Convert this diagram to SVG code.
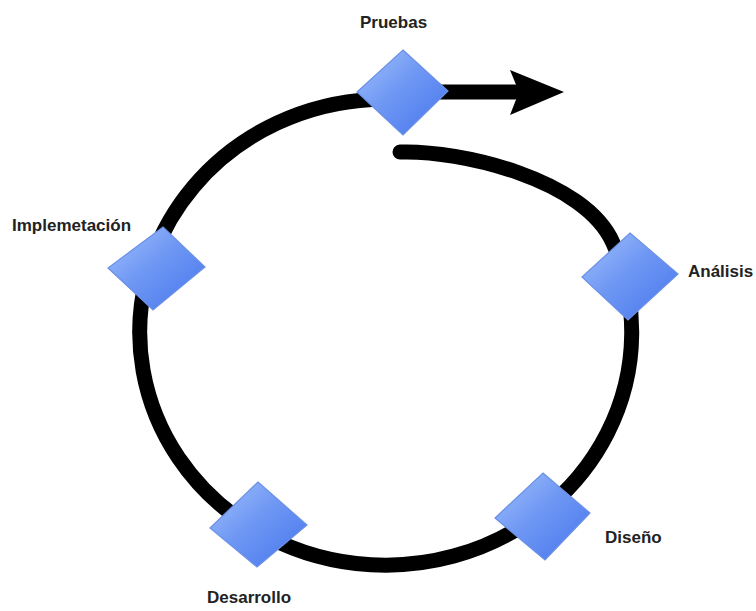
<svg xmlns="http://www.w3.org/2000/svg" width="756" height="611" viewBox="0 0 756 611">
  <defs>
    <linearGradient id="blue" x1="0" y1="0" x2="1" y2="1">
      <stop offset="0" stop-color="#a3c1fb"/>
      <stop offset="0.45" stop-color="#6f98f4"/>
      <stop offset="1" stop-color="#4674ec"/>
    </linearGradient>
  </defs>
  <style>
    .ring { fill: none; stroke: #000; stroke-width: 15; stroke-linecap: round; stroke-linejoin: round; }
    .node { fill: url(#blue); stroke: #6b90e6; stroke-width: 1.2; }
    .lbl { font-family: "Liberation Sans", Arial, sans-serif; font-weight: bold; font-size: 17px; fill: #222; }
  </style>
  <rect width="756" height="611" fill="#fff"/>
  <g id="connectors">
    <path class="ring" d="M400,152 C460,150 585,179 613,243 A246,233 0 1 1 372,99.5 L403,92 L515,92"/>
    <polygon points="510,70 564,92 510,115 519,92" fill="#000"/>
  </g>
  <g id="pruebas">
    <polygon class="node" points="403,50 448,91 403,135 357,92"/>
    <text class="lbl" x="360" y="28">Pruebas</text>
  </g>
  <g id="analisis">
    <polygon class="node" points="630,233 678,274 628,320 582,277"/>
    <text class="lbl" x="688" y="277">Análisis</text>
  </g>
  <g id="diseno">
    <polygon class="node" points="543,473 590,513 545,560 495,518"/>
    <text class="lbl" x="605" y="543">Diseño</text>
  </g>
  <g id="desarrollo">
    <polygon class="node" points="258,482 307,525 257,567 210,528"/>
    <text class="lbl" x="207" y="603">Desarrollo</text>
  </g>
  <g id="implementacion">
    <polygon class="node" points="163,227 205,267 153,310 108,268"/>
    <text class="lbl" x="12" y="231">Implemetación</text>
  </g>
</svg>
